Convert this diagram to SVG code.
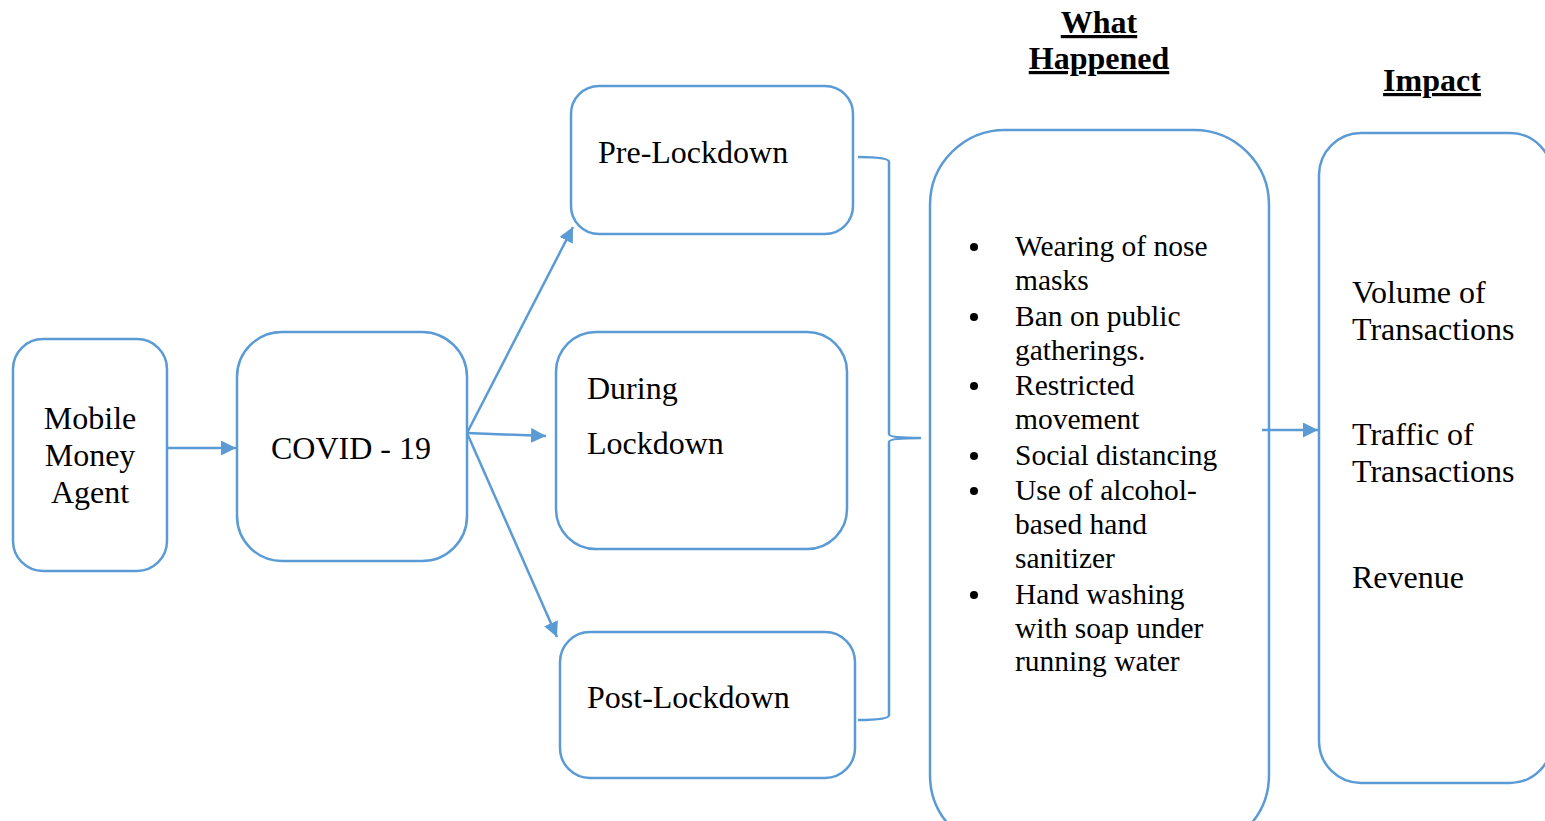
<svg xmlns="http://www.w3.org/2000/svg" width="1545" height="821" viewBox="0 0 1545 821">
<defs>
<style>
.box{fill:#fff;stroke:#5B9BD5;stroke-width:2.5}
.ln{fill:none;stroke:#5B9BD5;stroke-width:2.5}
.t{font-family:"Liberation Serif","Times New Roman",serif;font-size:32px;fill:#000}
.b{font-family:"Liberation Serif","Times New Roman",serif;font-size:29.5px;fill:#000}
.h{font-family:"Liberation Serif","Times New Roman",serif;font-size:32px;font-weight:bold;fill:#000;text-decoration:underline}
</style>
<marker id="ah" viewBox="0 0 10 10" refX="10" refY="5" markerWidth="6" markerHeight="6" markerUnits="strokeWidth" orient="auto">
<path d="M0,0 L10,5 L0,10 z" fill="#5B9BD5"/>
</marker>
</defs>
<rect width="1545" height="821" fill="#fff"/>
<g id="headers">
<text class="h" x="1099" y="33" text-anchor="middle">What</text>
<text class="h" x="1099" y="69" text-anchor="middle">Happened</text>
<text class="h" x="1432" y="91" text-anchor="middle">Impact</text>
</g>
<g id="agent">
<rect class="box" x="13" y="339" width="154" height="232" rx="30"/>
<text class="t" x="90" y="429" text-anchor="middle">Mobile</text>
<text class="t" x="90" y="466" text-anchor="middle">Money</text>
<text class="t" x="90" y="503" text-anchor="middle">Agent</text>
</g>
<g id="covid">
<rect class="box" x="237" y="332" width="230" height="229" rx="45"/>
<text class="t" x="271" y="459">COVID - 19</text>
</g>
<g id="pre">
<rect class="box" x="571" y="86" width="282" height="148" rx="28"/>
<text class="t" x="598" y="163">Pre-Lockdown</text>
</g>
<g id="during">
<rect class="box" x="556" y="332" width="291" height="217" rx="40"/>
<text class="t" x="587" y="399">During</text>
<text class="t" x="587" y="454">Lockdown</text>
</g>
<g id="post">
<rect class="box" x="560" y="632" width="295" height="146" rx="30"/>
<text class="t" x="587" y="708">Post-Lockdown</text>
</g>
<g id="what">
<rect class="box" x="930" y="130" width="339" height="720" rx="75"/>
<g fill="#000">
<circle cx="974" cy="247" r="4"/>
<circle cx="974" cy="317" r="4"/>
<circle cx="974" cy="386" r="4"/>
<circle cx="974" cy="456" r="4"/>
<circle cx="974" cy="491" r="4"/>
<circle cx="974" cy="595" r="4"/>
</g>
<text class="b" x="1015" y="256">Wearing of nose</text>
<text class="b" x="1015" y="290">masks</text>
<text class="b" x="1015" y="326">Ban on public</text>
<text class="b" x="1015" y="360">gatherings.</text>
<text class="b" x="1015" y="395">Restricted</text>
<text class="b" x="1015" y="429">movement</text>
<text class="b" x="1015" y="465">Social distancing</text>
<text class="b" x="1015" y="500">Use of alcohol-</text>
<text class="b" x="1015" y="534">based hand</text>
<text class="b" x="1015" y="568">sanitizer</text>
<text class="b" x="1015" y="604">Hand washing</text>
<text class="b" x="1015" y="638">with soap under</text>
<text class="b" x="1015" y="671">running water</text>
</g>
<g id="impact">
<rect class="box" x="1319" y="133" width="233" height="650" rx="42"/>
<text class="t" x="1352" y="303">Volume of</text>
<text class="t" x="1352" y="340">Transactions</text>
<text class="t" x="1352" y="445">Traffic of</text>
<text class="t" x="1352" y="482">Transactions</text>
<text class="t" x="1352" y="588">Revenue</text>
</g>
<g id="connectors">
<line class="ln" x1="167" y1="448" x2="236" y2="448" marker-end="url(#ah)"/>
<line class="ln" x1="467" y1="433" x2="573" y2="227" marker-end="url(#ah)"/>
<line class="ln" x1="467" y1="433" x2="546" y2="436" marker-end="url(#ah)"/>
<line class="ln" x1="467" y1="433" x2="557" y2="637" marker-end="url(#ah)"/>
<path class="ln" d="M858,157 Q889,157 889,162 L889,434 Q889,438 921,438 Q889,438 889,442 L889,715 Q889,720 858,720"/>
<line class="ln" x1="1262" y1="430" x2="1318" y2="430" marker-end="url(#ah)"/>
</g>
</svg>
